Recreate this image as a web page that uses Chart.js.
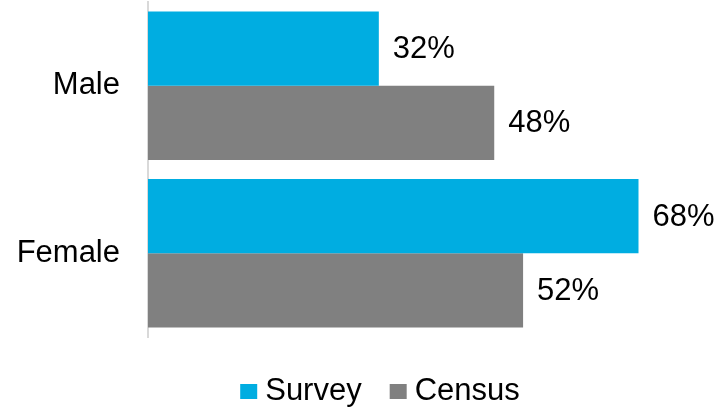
<!DOCTYPE html>
<html>
<head>
<meta charset="utf-8">
<script src="https://cdn.jsdelivr.net/npm/chart.js@4/dist/chart.umd.min.js"></script>
<style>
  html, body { margin: 0; padding: 0; background: #ffffff; }
  #wrap { width: 723px; height: 408px; position: relative; }
</style>
</head>
<body>
<div id="wrap"><canvas id="chart" width="723" height="408"></canvas></div>
<script>
// Share of respondents by gender, compared with census figures (percent)
const categories = ['Male', 'Female'];
const surveyValues = [32, 68];
const censusValues = [48, 52];
const seriesNames = ['Survey', 'Census'];
const seriesColors = ['#00ADE1', '#808080'];

const FONT = "'Liberation Sans', Arial, sans-serif";
const FONT_SIZE = 31;

// Percentage labels just past the end of each bar
const valueLabels = {
  id: 'valueLabels',
  afterDatasetsDraw(chart) {
    const ctx = chart.ctx;
    ctx.save();
    ctx.font = FONT_SIZE + 'px ' + FONT;
    ctx.fillStyle = '#000000';
    ctx.textAlign = 'left';
    ctx.textBaseline = 'middle';
    chart.data.datasets.forEach((ds, di) => {
      chart.getDatasetMeta(di).data.forEach((bar, i) => {
        ctx.fillText(ds.data[i] + '%', bar.x + 14, bar.y + 1);
      });
    });
    ctx.restore();
  }
};

// Legend row under the plot: square swatch, then the series name
const bottomLegend = {
  id: 'bottomLegend',
  afterDraw(chart) {
    const ctx = chart.ctx;
    const box = 17, boxH = 15, gap = 8, itemGap = 28;
    const baseline = 400;
    ctx.save();
    ctx.font = FONT_SIZE + 'px ' + FONT;
    const items = chart.data.datasets.map(ds => ({
      text: ds.label, color: ds.backgroundColor, w: ctx.measureText(ds.label).width
    }));
    const total = items.reduce((s, it) => s + box + gap + it.w, 0) + itemGap * (items.length - 1);
    let x = 380 - total / 2;
    ctx.textBaseline = 'alphabetic';
    ctx.textAlign = 'left';
    items.forEach(it => {
      ctx.fillStyle = it.color;
      ctx.fillRect(x, baseline - 16, box, boxH);
      x += box + gap;
      ctx.fillStyle = '#000000';
      ctx.fillText(it.text, x, baseline);
      x += it.w + itemGap;
    });
    ctx.restore();
  }
};

new Chart(document.getElementById('chart'), {
  type: 'bar',
  data: {
    labels: categories,
    datasets: [
      { label: seriesNames[0], data: surveyValues, backgroundColor: seriesColors[0] },
      { label: seriesNames[1], data: censusValues, backgroundColor: seriesColors[1] }
    ]
  },
  options: {
    indexAxis: 'y',
    responsive: false,
    animation: false,
    events: [],
    layout: { padding: { top: 2, right: 34, bottom: 71, left: 0 } },
    datasets: {
      bar: { categoryPercentage: 0.887, barPercentage: 1.0, borderWidth: 0 }
    },
    scales: {
      x: {
        display: false,
        min: 0,
        max: 75
      },
      y: {
        afterFit(scale) {
          scale.width = 148;
          scale.paddingTop = 0;
          scale.paddingBottom = 0;
        },
        grid: { display: false, drawTicks: false },
        border: { display: true, color: '#D9D9D9', width: 2 },
        ticks: {
          padding: 28,
          color: '#000000',
          font: { family: FONT, size: FONT_SIZE }
        }
      }
    },
    plugins: {
      legend: { display: false },
      tooltip: { enabled: false }
    }
  },
  plugins: [valueLabels, bottomLegend]
});
</script>
</body>
</html>
